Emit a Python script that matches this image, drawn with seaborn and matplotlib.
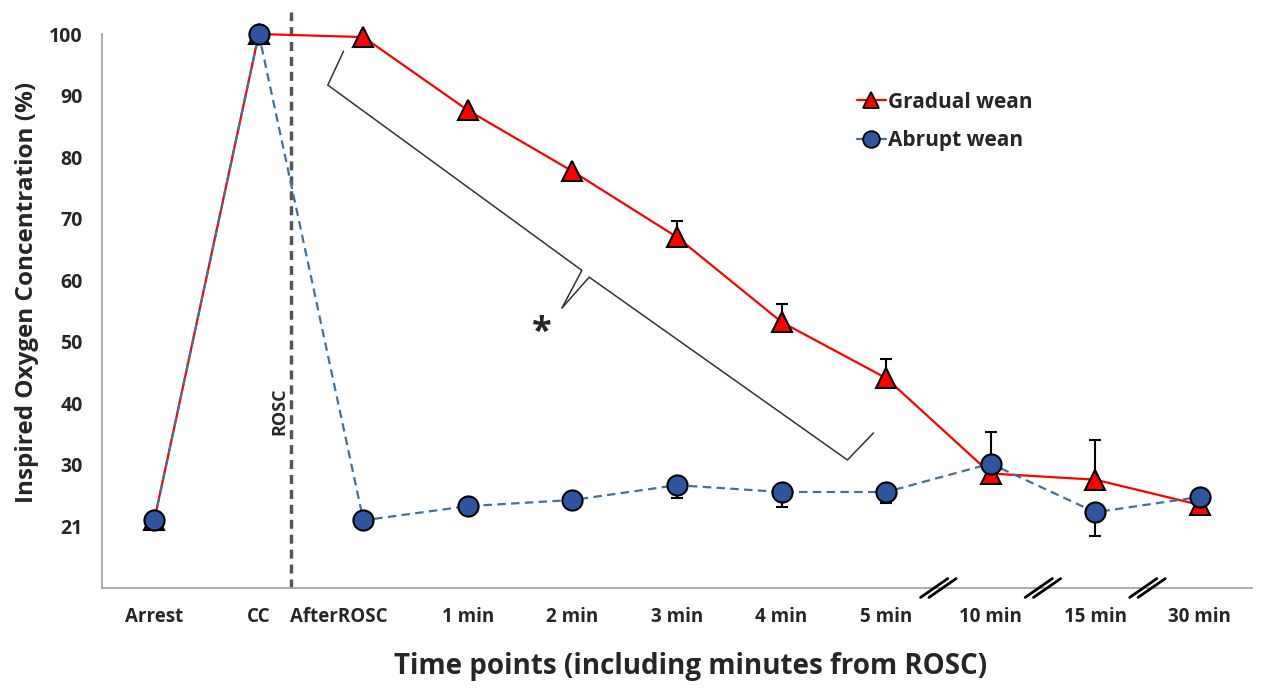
"""
Inspired oxygen concentration: gradual vs abrupt wean after ROSC.
"""

import numpy as np
import pandas as pd
import matplotlib
matplotlib.use('Agg')
import matplotlib.pyplot as plt
import matplotlib.transforms as mtransforms
from matplotlib.lines import Line2D
import seaborn as sns

# Данные
categories = ['Arrest', 'CC', 'AfterROSC', '1 min', '2 min', '3 min',
              '4 min', '5 min', '10 min', '15 min', '30 min']
gradual = [21, 100, 99.5, 87.6, 77.7, 67.0, 53.2, 44.1, 28.6, 27.6, 23.5]
abrupt = [21, 100, 21, 23.3, 24.3, 26.7, 25.6, 25.6, 30.2, 22.3, 24.8]
gradual_err_up = [0, 0, 0, 0, 0, 2.7, 2.9, 3.1, 0, 6.5, 0]
abrupt_err_down = [0, 0, 0, 0, 0, 2.0, 2.4, 1.8, 0, 3.8, 0]
abrupt_err_up = [0, 0, 0, 0, 0, 0, 0, 0, 5.2, 0, 0]
ytick_pos = [10, 20, 30, 40, 50, 60, 70, 80, 90, 100]
ytick_lab = ['', '21', '30', '40', '50', '60', '70', '80', '90', '100']

# brace (annotation) in data units
brace_upper = [(1.81, 97.2), (1.66, 91.7), (4.09, 61.6), (3.90, 55.5)]
brace_lower = [(3.90, 55.5), (4.16, 60.5), (6.63, 30.8), (6.88, 35.2)]

sns.set_style('white')
plt.rcParams['font.family'] = ['Open Sans', 'DejaVu Sans']
plt.rcParams['font.weight'] = 'bold'

RED = '#ff0000'
BLUE_FACE = '#2f55a0'
BLUE_LINE = '#41719c'

x = np.arange(len(categories))
df = pd.DataFrame({'x': np.concatenate([x, x]),
                   'value': gradual + abrupt,
                   'group': ['Gradual wean'] * len(x) + ['Abrupt wean'] * len(x)})

fig = plt.figure(figsize=(12.62, 6.9), dpi=100)
ax = fig.add_axes([102 / 1262, 1 - 588 / 690, 1150 / 1262, 554 / 690])

# Error bars
def draw_err(vals, lo, hi):
    vals = np.array(vals, float)
    lo = np.array(lo, float)
    hi = np.array(hi, float)
    m = (lo > 0) | (hi > 0)
    ax.errorbar(x[m], vals[m], yerr=[lo[m], hi[m]], fmt='none', ecolor='black',
                elinewidth=1.5, capsize=4, capthick=1.5, zorder=2, clip_on=False)

draw_err(gradual, np.zeros(len(x)), gradual_err_up)
draw_err(abrupt, abrupt_err_down, abrupt_err_up)

g = df[df['group'] == 'Gradual wean']
a = df[df['group'] == 'Abrupt wean']
sns.lineplot(data=g, x='x', y='value', ax=ax, color=RED, lw=1.6,
             marker='^', ms=15, mfc=RED, mec='black', mew=1.5,
             zorder=3, clip_on=False, legend=False)
sns.lineplot(data=a, x='x', y='value', ax=ax, color=BLUE_LINE, lw=1.6,
             linestyle=(0, (3.8, 2.4)),
             marker='o', ms=14.5, mfc=BLUE_FACE, mec='black', mew=1.5,
             zorder=4, clip_on=False, legend=False)

# ROSC line
ax.plot([1.31, 1.31], [10, 103.5], color='#555555', lw=2.5,
        linestyle=(0, (2.6, 1.7)), clip_on=False, zorder=1)
ax.text(1.2, 38.7, 'ROSC', rotation=90, ha='center', va='center',
        fontsize=13, fontweight='bold')

# Brace and asterisk
bx, by = zip(*brace_upper)
ax.plot(bx, by, color='#333333', lw=1.1, zorder=1)
bx, by = zip(*brace_lower)
ax.plot(bx, by, color='#333333', lw=1.1, zorder=1)
ax.text(3.71, 51.5, '*', ha='center', va='center', fontsize=26, fontweight='bold')

# Axes
ax.set_xlim(-0.5, 10.5)
ax.set_ylim(10, 100)
ax.set_xticks(x)
ax.set_xticklabels(categories, fontsize=13.5, fontweight='bold')
ax.set_xticks(np.arange(-0.5, 11, 1), minor=True)
ax.tick_params(axis='x', which='major', length=0, pad=14)
ax.tick_params(axis='x', which='minor', length=6, width=1.3, color='#a6a6a6')
ax.set_yticks(ytick_pos)
ax.set_yticklabels(ytick_lab, fontsize=14, fontweight='bold')
ax.tick_params(axis='y', length=5, width=1.3, color='#a6a6a6', pad=9)

# "AfterROSC" label sits left of its point in the original
lab = ax.get_xticklabels()[2]
lab.set_transform(lab.get_transform() +
                  mtransforms.ScaledTranslation(-0.25, 0, fig.dpi_scale_trans))

for s in ['top', 'right']:
    ax.spines[s].set_visible(False)
for s in ['left', 'bottom']:
    ax.spines[s].set_color('#a6a6a6')
    ax.spines[s].set_linewidth(1.3)

ax.set_xlabel('Time points (including minutes from ROSC)', fontsize=20,
              fontweight='bold', labelpad=18, x=0.512)
ax.set_ylabel('Inspired Oxygen Concentration (%)', fontsize=17.5,
              fontweight='bold', labelpad=7, y=0.534)

# Axis breaks
trans = mtransforms.blended_transform_factory(ax.transData, ax.transAxes)
for bxp in [7.5, 8.5, 9.5]:
    for off in [-0.04, 0.04]:
        ax.plot([bxp + off - 0.13, bxp + off + 0.13], [-0.017, 0.017],
                color='black', lw=2, transform=trans, clip_on=False, zorder=5)

# Legend
handles = [
    Line2D([], [], color=RED, lw=1.6, marker='^', ms=12, mfc=RED,
           mec='black', mew=1.3),
    Line2D([], [], color=BLUE_LINE, lw=1.6, marker='o', ms=12,
           mfc=BLUE_FACE, mec='black', mew=1.3),
]
ax.legend(handles, ['Gradual wean', 'Abrupt wean'], loc='upper left',
          bbox_to_anchor=(0.64, 0.93), frameon=False, handlelength=1.4,
          handletextpad=0.1, labelspacing=0.85,
          prop={'size': 15, 'weight': 'bold'})

plt.savefig('out.png', dpi=100)
plt.close()
